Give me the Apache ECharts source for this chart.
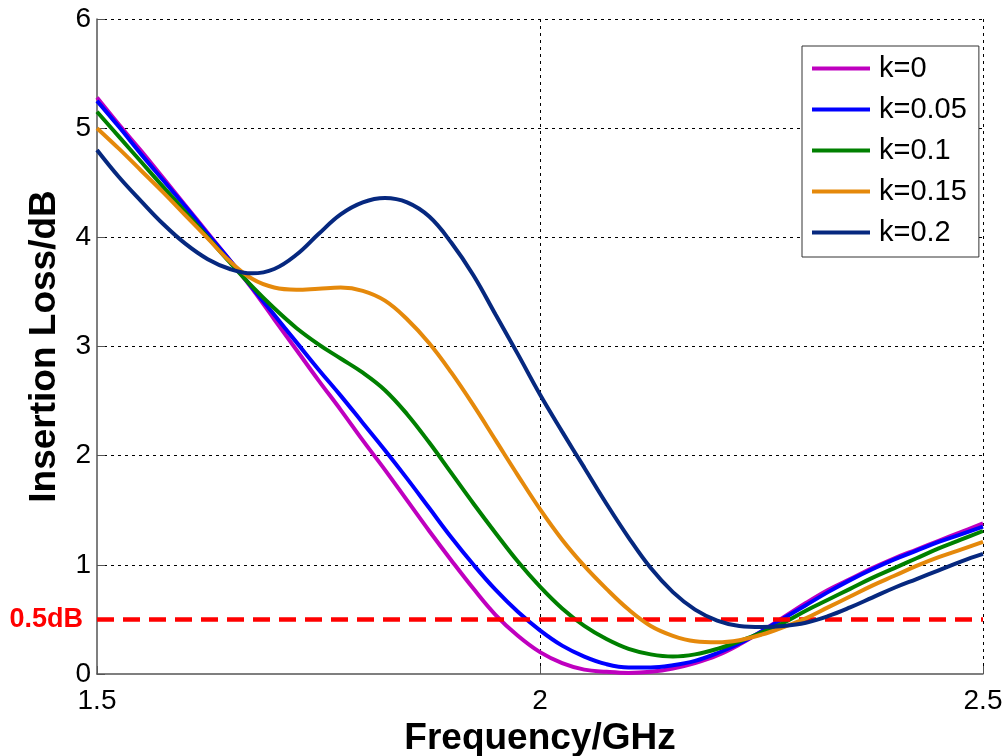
<!DOCTYPE html>
<html>
<head>
<meta charset="utf-8">
<script src="https://cdn.jsdelivr.net/npm/echarts@6/dist/echarts.min.js"></script>
<style>
html,body{margin:0;padding:0;background:#fff;}
#c{width:1007px;height:756px;}
</style>
</head>
<body>
<div id="c"></div>
<script>
// Frequency (GHz)
const freq = [1.500,1.525,1.550,1.575,1.600,1.625,1.650,1.675,1.700,1.725,1.750,1.775,1.800,1.825,1.850,1.875,1.900,1.925,1.950,1.975,2.000,2.025,2.050,2.075,2.100,2.125,2.150,2.175,2.200,2.225,2.250,2.275,2.300,2.325,2.350,2.375,2.400,2.425,2.450,2.475,2.500];
// Insertion loss (dB) for each k
const k0   = [5.28,5.03,4.79,4.54,4.29,4.04,3.79,3.53,3.25,2.97,2.69,2.42,2.14,1.87,1.59,1.31,1.04,0.78,0.54,0.35,0.20,0.10,0.04,0.02,0.01,0.02,0.05,0.10,0.17,0.27,0.39,0.52,0.65,0.77,0.87,0.97,1.06,1.14,1.22,1.30,1.38];
const k005 = [5.25,5.01,4.76,4.52,4.28,4.03,3.79,3.54,3.29,3.04,2.79,2.55,2.30,2.05,1.79,1.52,1.25,1.00,0.77,0.57,0.40,0.26,0.16,0.09,0.06,0.06,0.08,0.12,0.19,0.28,0.39,0.51,0.63,0.75,0.86,0.96,1.05,1.13,1.21,1.28,1.35];
const k01  = [5.15,4.92,4.69,4.46,4.23,4.00,3.77,3.55,3.35,3.17,3.02,2.89,2.76,2.60,2.38,2.12,1.84,1.56,1.29,1.03,0.80,0.60,0.44,0.32,0.23,0.18,0.16,0.18,0.23,0.30,0.38,0.47,0.58,0.68,0.78,0.88,0.97,1.06,1.15,1.23,1.31];
const k015 = [5.00,4.81,4.61,4.41,4.20,3.99,3.78,3.62,3.54,3.52,3.53,3.54,3.51,3.42,3.25,3.03,2.76,2.46,2.14,1.82,1.51,1.23,0.99,0.78,0.59,0.44,0.35,0.30,0.29,0.31,0.36,0.43,0.51,0.61,0.71,0.81,0.90,0.99,1.07,1.14,1.21];
const k02  = [4.80,4.55,4.33,4.12,3.94,3.80,3.71,3.67,3.71,3.84,4.03,4.21,4.32,4.36,4.32,4.19,3.95,3.65,3.29,2.93,2.56,2.22,1.89,1.56,1.25,0.97,0.75,0.59,0.49,0.44,0.43,0.44,0.47,0.53,0.61,0.70,0.79,0.87,0.95,1.03,1.10];
const seriesNames = ['k=0','k=0.05','k=0.1','k=0.15','k=0.2'];
const seriesValues = [k0,k005,k01,k015,k02];
const seriesColors = ['#bf00bf','#0000ff','#008000','#e5890b','#06287f'];
const threshold = [0.5];
const thresholdLabel = ['0.5dB'];
const xTicks = [1.5, 2, 2.5];
const yTicks = [0, 1, 2, 3, 4, 5, 6];

const FONT = "'Liberation Sans', Arial, Helvetica, sans-serif";
const chart = echarts.init(document.getElementById('c'), null, {renderer: 'canvas'});

const series = seriesNames.map((n, si) => ({
  name: n,
  type: 'line',
  data: freq.map((f, i) => [f, seriesValues[si][i]]),
  showSymbol: false,
  symbol: 'none',
  smooth: 0.4,
  lineStyle: {color: seriesColors[si], width: 4},
  itemStyle: {color: seriesColors[si]},
  z: 2 + si
}));

series.push({
  name: thresholdLabel[0],
  type: 'line',
  data: [],
  z: 10,
  markLine: {
    silent: true,
    symbol: ['none', 'none'],
    animation: false,
    data: [{yAxis: threshold[0]}],
    lineStyle: {color: '#ff0000', width: 4.5, type: [17, 9]},
    label: {
      show: true,
      position: 'start',
      formatter: thresholdLabel[0],
      color: '#ff0000',
      fontWeight: 'bold',
      fontSize: 27,
      fontFamily: FONT,
      distance: 14
    }
  }
});

chart.setOption({
  animation: false,
  backgroundColor: '#ffffff',
  grid: {left: 97, right: 24, top: 19, bottom: 82, containLabel: false, outerBoundsMode: 'none'},
  xAxis: {
    type: 'value',
    min: xTicks[0],
    max: xTicks[xTicks.length - 1],
    interval: 0.5,
    name: 'Frequency/GHz',
    nameLocation: 'middle',
    nameGap: 46,
    nameTextStyle: {fontSize: 37, fontWeight: 'bold', color: '#000', fontFamily: FONT},
    axisLine: {show: true, onZero: false, lineStyle: {color: '#555', width: 1.5}},
    axisTick: {show: true, inside: true, length: 8, lineStyle: {color: '#555'}},
    axisLabel: {fontSize: 28, color: '#000', fontFamily: FONT, margin: 13},
    splitLine: {show: true, showMinLine: false, lineStyle: {color: '#000', width: 1, type: [3, 4]}}
  },
  yAxis: {
    type: 'value',
    min: yTicks[0],
    max: yTicks[yTicks.length - 1],
    interval: 1,
    name: 'Insertion Loss/dB',
    nameLocation: 'middle',
    nameGap: 34,
    nameTextStyle: {fontSize: 37, fontWeight: 'bold', color: '#000', fontFamily: FONT},
    axisLine: {show: true, lineStyle: {color: '#555', width: 1.5}},
    axisTick: {show: true, inside: true, length: 8, lineStyle: {color: '#555'}},
    axisLabel: {fontSize: 28, color: '#000', fontFamily: FONT, margin: 6},
    splitLine: {show: true, showMinLine: false, lineStyle: {color: '#000', width: 1, type: [3, 4]}}
  },
  legend: {
    show: true,
    orient: 'vertical',
    left: 802,
    top: 46,
    padding: [8, 12, 10, 10],
    itemGap: 12,
    itemWidth: 58,
    itemHeight: 4,
    icon: 'rect',
    backgroundColor: '#fff',
    borderColor: '#333',
    borderWidth: 1,
    borderRadius: 0,
    data: seriesNames,
    textStyle: {fontSize: 29, color: '#000', fontFamily: FONT, padding: [0, 0, 0, 4]}
  },
  series: series
});
</script>
</body>
</html>
